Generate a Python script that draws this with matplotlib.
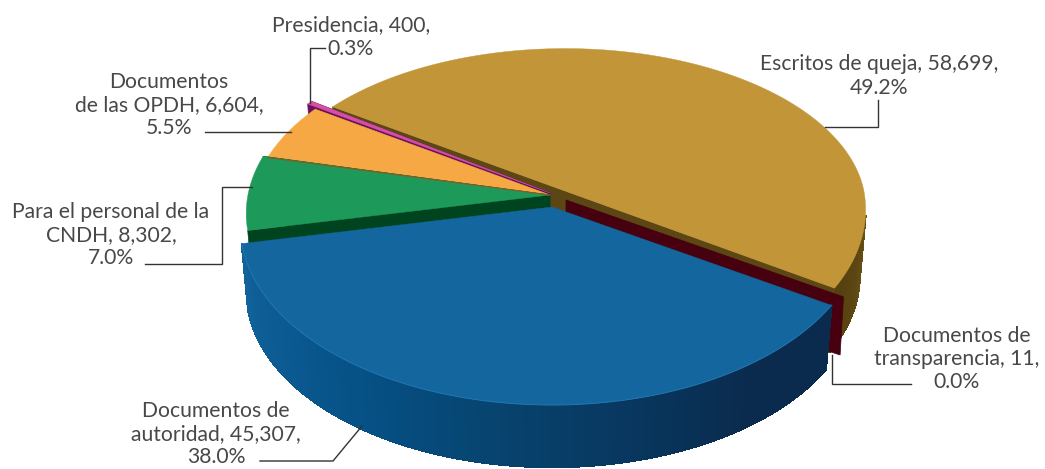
import numpy as np
import matplotlib.pyplot as plt
from matplotlib.colors import LinearSegmentedColormap
from matplotlib.patches import Polygon

plt.rcParams['font.family'] = ['Lato', 'DejaVu Sans']

# Data, going clockwise from the gold slice
names = ['Escritos de queja', 'Documentos de\ntransparencia', 'Documentos de\nautoridad',
         'Para el personal de la\nCNDH', 'Documentos\nde las OPDH', 'Presidencia']
values = [58699, 11, 45307, 8302, 6604, 400]
percents = ['49.2%', '0.0%', '38.0%', '7.0%', '5.5%', '0.3%']

top_colors = ['#c29638', '#5a0012', '#14669f', '#1d9a5a', '#f6a844', '#d64fa6']
side_colors = ['#5c4613', '#47000f', '#0a2b4d', '#00431f', '#8a5a20', '#6b1060']

# Where each slice sits on the page (exploded pie), in pixels
apex_x = [565, 566, 552, 550, 550, 550]
apex_y = [191, 200, 207, 195, 195, 193]
scale = [0.955, 0.955, 0.99, 0.965, 0.95, 0.98]
scale_up = [0.89, 0.955, 1.0, 0.97, 0.935, 0.97]  # back half of the rim
scale_down = [0.99, 0.955, 1.0, 0.97, 0.935, 0.97]  # front half of the rim

label_pos = [(879, 76), (957, 359), (216, 434), (111, 235), (169, 105), (351, 37)]
leaders = [[(825, 127), (878, 127), (878, 100)],
           [(832, 355), (832, 384), (911, 384)],
           [(362, 426), (333, 461), (260, 461)],
           [(145, 264), (222, 264), (222, 187), (252, 187)],
           [(205, 132), (291, 132)],
           [(310, 103), (310, 48), (325, 48)]]

R, S, K = 313, 177, 0.106  # ellipse radii and perspective
H = 66  # pie thickness
BOTTOM = 0.98  # lower rim is further from the viewer
START = 145.5


def project(theta, i, drop=False):
    u, v = np.cos(np.radians(theta)), np.sin(np.radians(theta))
    w = 1 + K * v
    b = BOTTOM if drop else 1
    sy = np.where(v > 0, scale_up[i], scale_down[i])
    return apex_x[i] + R * scale[i] * b * u / w, apex_y[i] + (H if drop else 0) - S * sy * b * v / w


def rim(t0, t1, i, drop=False, n=120):
    x, y = project(np.linspace(t0, t1, n), i, drop)
    return np.column_stack([x, y])


def side_strip(ax, t0, t1, i, cmap):
    ts = np.linspace(t0, t1, 240)
    for k in range(len(ts) - 1):
        top = rim(ts[k], ts[k + 1], i, n=3)
        low = rim(ts[k + 1], ts[k], i, drop=True, n=3)
        c = cmap(k / (len(ts) - 2))
        ax.add_patch(Polygon(np.vstack([top, low]), fc=c, ec=c, lw=1.0, antialiased=False))


def cut_face(ax, t, i):
    px, py = project(t, i)
    qx, qy = project(t, i, drop=True)
    pts = [(apex_x[i], apex_y[i]), (px, py), (qx, qy), (apex_x[i], apex_y[i] + H)]
    ax.add_patch(Polygon(pts, fc=side_colors[i], ec=side_colors[i], lw=0.5))


fig = plt.figure(figsize=(10.45, 4.69), dpi=100)
ax = fig.add_axes([0, 0, 1, 1])
ax.set_xlim(0, 1045)
ax.set_ylim(469, 0)
ax.axis('off')

sweep = np.array(values) / sum(values) * 360
ends = START - np.cumsum(sweep)
starts = ends + sweep

gold_cmap = LinearSegmentedColormap.from_list('g', ['#6e5518', '#5c4613', '#54400f'])
blue_cmap = LinearSegmentedColormap.from_list(
    'b', ['#0a2b4d', '#0a2b4d', '#08375f', '#07446f', '#055084', '#0b5a92', '#12629b'])

# Painter's order: back slices first. The gold side only shows on the right
side_strip(ax, -8, ends[0], 0, gold_cmap)
cut_face(ax, starts[0], 0)
cut_face(ax, ends[0], 0)
ax.add_patch(Polygon(np.vstack([[apex_x[0], apex_y[0]], rim(starts[0], ends[0], 0)]),
                     fc=top_colors[0], ec=top_colors[0], lw=0.3))

# Transparency slice is nearly zero wide, only its cut face shows
px, py = project(ends[1], 1)
qx, qy = project(ends[1], 1, drop=True)
ax.add_patch(Polygon([(apex_x[1], apex_y[1]), (px + 8, py + 3), (qx + 10, qy - 3), (apex_x[1], apex_y[1] + H)],
                     fc=side_colors[1], ec=side_colors[1], lw=0.5))

for i in [5, 4, 3]:
    cut_face(ax, starts[i], i)
    cut_face(ax, ends[i], i)
    ax.add_patch(Polygon(np.vstack([[apex_x[i], apex_y[i]], rim(starts[i], ends[i], i)]),
                         fc=top_colors[i], ec=top_colors[i], lw=0.3))

# the lower cut of the orange slice shows only as a thin line
ex, ey = project(starts[4], 4)
ax.plot([apex_x[4], ex], [apex_y[4], ey], color=side_colors[4], lw=0.8)

side_strip(ax, starts[2], ends[2], 2, blue_cmap)
ax.add_patch(Polygon(np.vstack([[apex_x[2], apex_y[2]], rim(starts[2], ends[2], 2)]),
                     fc=top_colors[2], ec=top_colors[2], lw=0.3))
ax.plot(*rim(starts[2], ends[2], 2).T, color='#2277b0', lw=0.7)

# Labels and leader lines
for name, value, pct, pos, line in zip(names, values, percents, label_pos, leaders):
    ax.text(pos[0], pos[1], f'{name}, {value:,},\n{pct}', ha='center', va='center',
            multialignment='center', fontsize=15.2, color='#484848', linespacing=1.2)
    xs, ys = zip(*line)
    ax.plot(xs, ys, color='#333333', lw=1.0, solid_joinstyle='miter')

fig.savefig('out.png', dpi=100)
